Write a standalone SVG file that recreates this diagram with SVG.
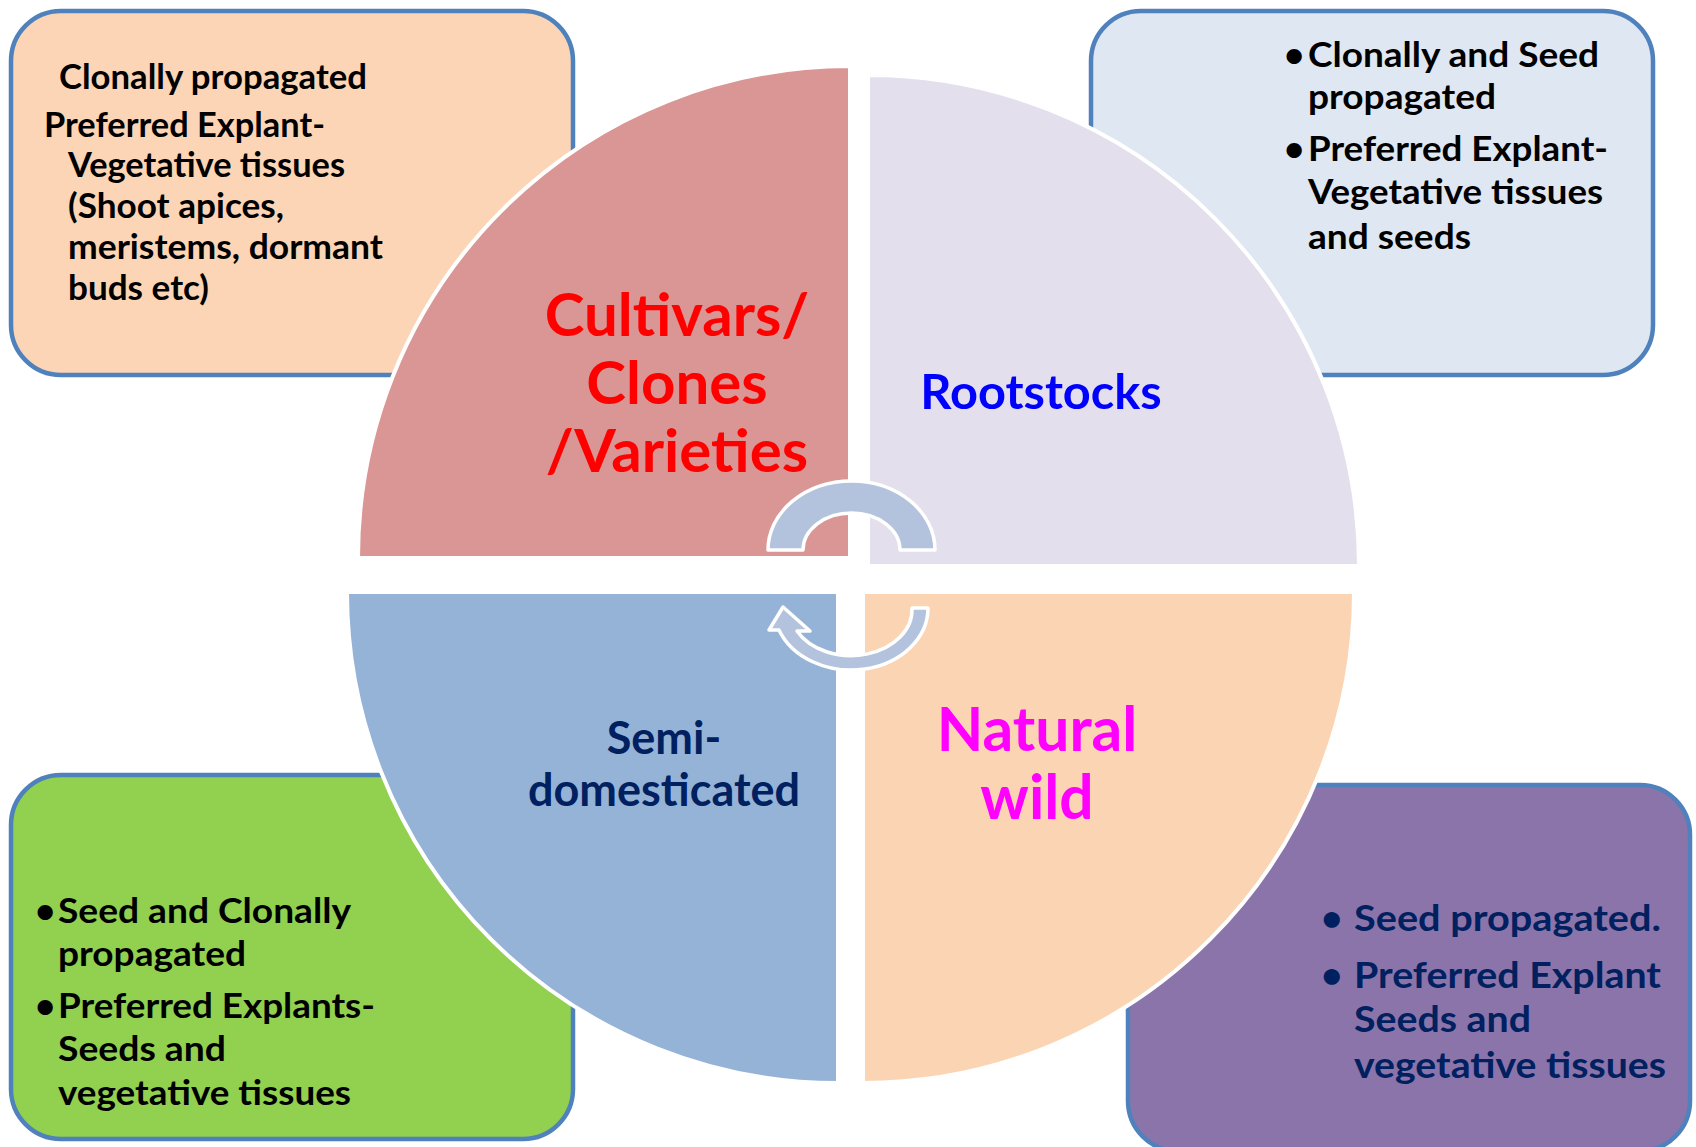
<svg xmlns="http://www.w3.org/2000/svg" width="1696" height="1147" viewBox="0 0 1696 1147">
<style>
.box{stroke:#4F81BD;stroke-width:4.5}
.q{stroke:#FFFFFF;stroke-width:4}
.t{font-family:Lato,"Liberation Sans",sans-serif;font-weight:bold}
.b1{font-size:34px;fill:#000000}
.b2{font-size:35px;fill:#000000}
.b3{font-size:37px;fill:#002060}
.arr{fill:#B3C3DD;stroke:#FFFFFF;stroke-width:3.5;stroke-linejoin:round}
</style>
<rect width="1696" height="1147" fill="#FFFFFF"/>
<g id="box-cultivars">
<rect class="box" x="11" y="11" width="562" height="364" rx="50" fill="#FBD5B5"/>
<text class="t b1" x="59" y="89" textLength="308" lengthAdjust="spacingAndGlyphs">Clonally propagated</text>
<text class="t b1" x="44" y="137" textLength="281" lengthAdjust="spacingAndGlyphs">Preferred Explant-</text>
<text class="t b1" x="68" y="177" textLength="277" lengthAdjust="spacingAndGlyphs">Vegetative tissues</text>
<text class="t b1" x="68" y="218" textLength="216" lengthAdjust="spacingAndGlyphs">(Shoot apices,</text>
<text class="t b1" x="68" y="259" textLength="315" lengthAdjust="spacingAndGlyphs">meristems, dormant</text>
<text class="t b1" x="68" y="300" textLength="141" lengthAdjust="spacingAndGlyphs">buds etc)</text>
</g>
<g id="box-rootstocks">
<rect class="box" x="1091" y="11" width="562" height="364" rx="50" fill="#DFE7F3"/>
<text class="t b2" x="1284" y="67">•</text>
<text class="t b2" x="1308" y="67" textLength="291" lengthAdjust="spacingAndGlyphs">Clonally and Seed</text>
<text class="t b2" x="1308" y="109" textLength="188" lengthAdjust="spacingAndGlyphs">propagated</text>
<text class="t b2" x="1284" y="161">•</text>
<text class="t b2" x="1308" y="161" textLength="300" lengthAdjust="spacingAndGlyphs">Preferred Explant-</text>
<text class="t b2" x="1308" y="204" textLength="295" lengthAdjust="spacingAndGlyphs">Vegetative tissues</text>
<text class="t b2" x="1308" y="249" textLength="163" lengthAdjust="spacingAndGlyphs">and seeds</text>
</g>
<g id="box-semi">
<rect class="box" x="11" y="775" width="562" height="364" rx="50" fill="#92D050"/>
<text class="t b2" x="35" y="923">•</text>
<text class="t b2" x="58" y="923" textLength="293" lengthAdjust="spacingAndGlyphs">Seed and Clonally</text>
<text class="t b2" x="58" y="966" textLength="188" lengthAdjust="spacingAndGlyphs">propagated</text>
<text class="t b2" x="35" y="1018">•</text>
<text class="t b2" x="58" y="1018" textLength="317" lengthAdjust="spacingAndGlyphs">Preferred Explants-</text>
<text class="t b2" x="58" y="1061" textLength="168" lengthAdjust="spacingAndGlyphs">Seeds and</text>
<text class="t b2" x="58" y="1105" textLength="293" lengthAdjust="spacingAndGlyphs">vegetative tissues</text>
</g>
<g id="box-wild">
<rect class="box" x="1128" y="785" width="562" height="366" rx="50" fill="#8B74AA"/>
<text class="t b3" x="1321" y="931">•</text>
<text class="t b3" x="1354" y="931" textLength="307" lengthAdjust="spacingAndGlyphs">Seed propagated.</text>
<text class="t b3" x="1321" y="988">•</text>
<text class="t b3" x="1354" y="988" textLength="307" lengthAdjust="spacingAndGlyphs">Preferred Explant</text>
<text class="t b3" x="1354" y="1032" textLength="177" lengthAdjust="spacingAndGlyphs">Seeds and</text>
<text class="t b3" x="1354" y="1078" textLength="312" lengthAdjust="spacingAndGlyphs">vegetative tissues</text>
</g>
<g id="q-cultivars">
<path class="q" d="M 850,558 L 358,558 A 492 492 0 0 1 850,66 Z" fill="#D99694"/>
<text class="t" font-size="60" fill="#FF0000" text-anchor="middle"><tspan x="677" y="336">Cultivars/</tspan><tspan x="677" y="404">Clones</tspan><tspan x="677" y="472">/Varieties</tspan></text>
</g>
<g id="q-rootstocks">
<path class="q" d="M 868,566 L 868,75 A 491 491 0 0 1 1359,566 Z" fill="#E4DFEC"/>
<text class="t" font-size="48.7" fill="#0000FF" text-anchor="middle" x="1041" y="409">Rootstocks</text>
</g>
<g id="q-semi">
<path class="q" d="M 838,592 L 838,1083 A 491 491 0 0 1 347,592 Z" fill="#95B3D7"/>
<text class="t" font-size="45" fill="#002060" text-anchor="middle"><tspan x="664" y="754">Semi-</tspan><tspan x="664" y="806">domesticated</tspan></text>
</g>
<g id="q-wild">
<path class="q" d="M 863,592 L 1354,592 A 491 491 0 0 1 863,1083 Z" fill="#FBD4B4"/>
<text class="t" font-size="60.5" fill="#FF00FF" text-anchor="middle"><tspan x="1037" y="751">Natural</tspan><tspan x="1037" y="819">wild</tspan></text>
</g>
<g id="connectors">
<path class="arr" d="M 768,550 A 83.5 69 0 0 1 935,550 L 900,550 A 48.5 37 0 0 0 803,550 Z"/>
<path class="arr" d="M 928,608 A 77 62 0 0 1 779,630 L 769,630 L 783,607 L 810,631 L 797,631 A 61 46 0 0 0 912,608 Z"/>
</g>
</svg>
